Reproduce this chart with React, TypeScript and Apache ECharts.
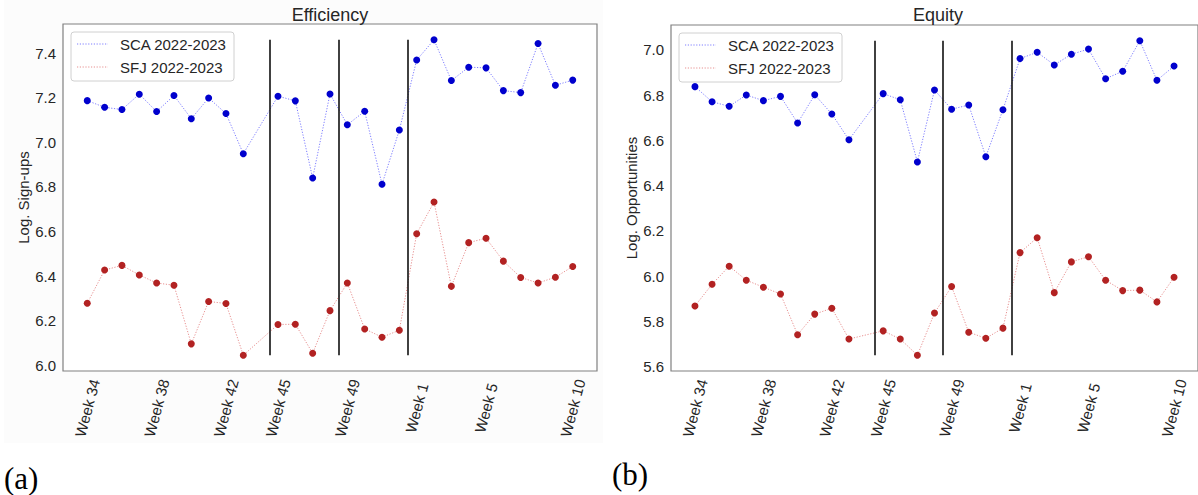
import React, { useEffect, useRef } from "react";
import * as echarts from "echarts";

const weeks = [
  "Week 34", "Week 35", "Week 36", "Week 37", "Week 38", "Week 39", "Week 40", "Week 41", "Week 42", "Week 43",
  "Week 44", "Week 45", "Week 46", "Week 47", "Week 48", "Week 49", "Week 50", "Week 51", "Week 52",
  "Week 1", "Week 2", "Week 3", "Week 4", "Week 5", "Week 6", "Week 7", "Week 8", "Week 9", "Week 10",
];
const tickWeeks = ["Week 34", "Week 38", "Week 42", "Week 45", "Week 49", "Week 1", "Week 5", "Week 10"];
const breakAfter = ["Week 44", "Week 48", "Week 52"];

const signupsSCA = [7.187, 7.157, 7.147, 7.216, 7.138, 7.21, 7.106, 7.199, 7.129, 6.949, null, 7.207, 7.186, 6.84, 7.217, 7.079, 7.139, 6.812, 7.055, 7.369, 7.46, 7.277, 7.337, 7.334, 7.232, 7.223, 7.443, 7.256, 7.279];
const signupsSFJ = [6.278, 6.427, 6.448, 6.405, 6.369, 6.359, 6.096, 6.286, 6.277, 6.045, null, 6.183, 6.184, 6.054, 6.245, 6.369, 6.163, 6.126, 6.157, 6.59, 6.732, 6.354, 6.55, 6.57, 6.467, 6.394, 6.369, 6.395, 6.443];
const oppSCA = [6.838, 6.771, 6.751, 6.801, 6.776, 6.795, 6.677, 6.802, 6.717, 6.603, null, 6.807, 6.78, 6.505, 6.823, 6.738, 6.757, 6.528, 6.736, 6.962, 6.99, 6.934, 6.981, 7.004, 6.873, 6.906, 7.041, 6.866, 6.929];
const oppSFJ = [5.868, 5.964, 6.044, 5.982, 5.951, 5.921, 5.741, 5.832, 5.858, 5.722, null, 5.758, 5.722, 5.65, 5.837, 5.954, 5.752, 5.725, 5.77, 6.104, 6.17, 5.927, 6.063, 6.086, 5.982, 5.936, 5.938, 5.886, 5.995];

const ticksLeft = [6.0, 6.2, 6.4, 6.6, 6.8, 7.0, 7.2, 7.4];
const ticksRight = [5.6, 5.8, 6.0, 6.2, 6.4, 6.6, 6.8, 7.0];

const seriesNames = ["SCA 2022-2023", "SFJ 2022-2023"];
const titles = ["Efficiency", "Equity"];
const yNames = ["Log. Sign-ups", "Log. Opportunities"];
const panelLabels = ["(a)", "(b)"];

const FONT = '"Liberation Sans", Arial, sans-serif';
const TXT = "#262626";
const SCA_DOT = "#0000CD";
const SFJ_DOT = "#B22222";
const SCA_LINE = "rgba(40,40,255,0.6)";
const SFJ_LINE = "rgba(215,70,70,0.6)";

function toPoints(arr: (number | null)[]) {
  const out: [number, number][] = [];
  arr.forEach((v, i) => {
    if (v !== null) out.push([i, v]);
  });
  return out;
}

export default function App() {
  const ref = useRef<HTMLDivElement>(null);
  useEffect(() => {
    if (!ref.current) return;
    const chart = echarts.init(ref.current, undefined, { renderer: "svg" });

    const panels = [
      { sca: signupsSCA, sfj: signupsSFJ, ticks: ticksLeft, grid: { left: 63, top: 24, width: 534, height: 347 }, legend: { x: 71, y: 32 } },
      { sca: oppSCA, sfj: oppSFJ, ticks: ticksRight, grid: { left: 671, top: 25, width: 534, height: 346 }, legend: { x: 679, y: 33 } },
    ];

    const nX = weeks.length - 1;
    const xMin = -0.05 * nX;
    const xMax = nX + 0.05 * nX;
    const breaks = breakAfter.map((w) => weeks.indexOf(w) + 0.5);
    const tickIdx = tickWeeks.map((w) => weeks.indexOf(w));

    const grids: any[] = [];
    const xAxes: any[] = [];
    const yAxes: any[] = [];
    const series: any[] = [];
    const graphics: any[] = [];

    graphics.push({
      type: "rect",
      z: -10,
      silent: true,
      shape: { x: 4, y: 0, width: 599, height: 443 },
      style: { fill: "#fcfcfc" },
    });

    panels.forEach((p, k) => {
      const all = [...p.sca, ...p.sfj].filter((v) => v !== null) as number[];
      const lo = Math.min(...all);
      const hi = Math.max(...all);
      const span = hi - lo;
      grids.push({
        ...p.grid,
        show: true,
        backgroundColor: "#ffffff",
        borderColor: "#808080",
        borderWidth: 1.2,
      });
      xAxes.push({
        type: "value",
        gridIndex: k,
        min: xMin,
        max: xMax,
        splitLine: { show: false },
        axisTick: { show: false },
        axisLine: { show: false },
        axisLabel: {
          customValues: tickIdx,
          formatter: (v: number) => weeks[Math.round(v)],
          rotate: 75,
          align: "center",
          verticalAlign: "middle",
          margin: 37,
          fontSize: 15,
          color: TXT,
          fontFamily: FONT,
        },
      });
      yAxes.push({
        type: "value",
        gridIndex: k,
        min: lo - 0.05 * span,
        max: hi + 0.05 * span,
        splitLine: { show: false },
        axisTick: { show: false },
        axisLine: { show: false },
        axisLabel: {
          customValues: p.ticks,
          formatter: (v: number) => v.toFixed(1),
          margin: 7,
          fontSize: 15,
          color: TXT,
          fontFamily: FONT,
        },
        name: yNames[k],
        nameLocation: "middle",
        nameGap: 31,
        nameTextStyle: { fontSize: 15, color: TXT, fontFamily: FONT },
      });
      series.push({
        type: "line",
        name: seriesNames[0],
        xAxisIndex: k,
        yAxisIndex: k,
        data: toPoints(p.sca),
        symbol: "circle",
        symbolSize: 7,
        itemStyle: { color: SCA_DOT },
        lineStyle: { color: SCA_LINE, width: 1, type: [1.2, 1.6] },
        z: 3,
        markLine: {
          silent: true,
          symbol: ["none", "none"],
          label: { show: false },
          lineStyle: { color: "#111111", width: 1.6, type: "solid" },
          z: 5,
          data: breaks.map((b) => [{ coord: [b, lo] }, { coord: [b, hi] }]),
        },
      });
      series.push({
        type: "line",
        name: seriesNames[1],
        xAxisIndex: k,
        yAxisIndex: k,
        data: toPoints(p.sfj),
        symbol: "circle",
        symbolSize: 7,
        itemStyle: { color: SFJ_DOT },
        lineStyle: { color: SFJ_LINE, width: 1, type: [1.2, 1.6] },
        z: 3,
      });

      const cx = p.grid.left + p.grid.width / 2;
      graphics.push({
        type: "text",
        x: cx,
        y: 14.5,
        style: { text: titles[k], font: `18px ${FONT}`, fill: TXT, align: "center", verticalAlign: "middle" },
      });

      const lx = p.legend.x;
      const ly = p.legend.y;
      graphics.push({
        type: "rect",
        z: 50,
        shape: { x: lx, y: ly, width: 163, height: 49, r: 3 },
        style: { fill: "rgba(255,255,255,0.85)", stroke: "#d0d0d0", lineWidth: 1 },
      });
      [SCA_LINE, SFJ_LINE].forEach((c, j) => {
        const yy = ly + 12 + j * 23;
        graphics.push({
          type: "line",
          z: 51,
          shape: { x1: lx + 6, y1: yy, x2: lx + 37, y2: yy },
          style: { stroke: c, lineWidth: 1, lineDash: [1.2, 1.6] },
        });
        graphics.push({
          type: "text",
          z: 51,
          x: lx + 49,
          y: yy,
          style: { text: seriesNames[j], font: `15px ${FONT}`, fill: TXT, align: "left", verticalAlign: "middle" },
        });
      });
    });

    graphics.push({
      type: "text",
      x: 4,
      y: 478,
      style: { text: panelLabels[0], font: '31px "Liberation Serif", serif', fill: "#000", align: "left", verticalAlign: "middle" },
    });
    graphics.push({
      type: "text",
      x: 612,
      y: 474,
      style: { text: panelLabels[1], font: '31px "Liberation Serif", serif', fill: "#000", align: "left", verticalAlign: "middle" },
    });

    chart.setOption({
      animation: false,
      backgroundColor: "#ffffff",
      grid: grids,
      xAxis: xAxes,
      yAxis: yAxes,
      series,
      graphic: graphics,
    });
    return () => chart.dispose();
  }, []);

  return (
    <div
      ref={ref}
      style={{ position: "absolute", left: 0, top: 0, width: 1198, height: 495, background: "#fff" }}
    />
  );
}
